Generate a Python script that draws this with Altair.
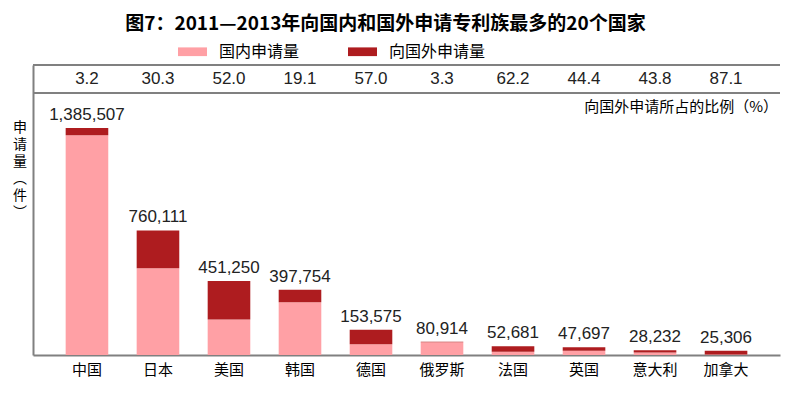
import altair as alt
import pandas as pd

CJK = "Noto Sans CJK SC"
NUM = "Liberation Sans"

title_text = "图7：2011—2013年向国内和国外申请专利族最多的20个国家"
countries = ["中国", "日本", "美国", "韩国", "德国", "俄罗斯", "法国", "英国", "意大利", "加拿大"]
totals = [1385507, 760111, 451250, 397754, 153575, 80914, 52681, 47697, 28232, 25306]
domestic = [1341171, 529797, 216600, 321783, 66037, 78244, 19913, 26520, 15866, 3264]
foreign = [44336, 230314, 234650, 75971, 87538, 2670, 32768, 21177, 12366, 22042]
foreign_pct = [3.2, 30.3, 52.0, 19.1, 57.0, 3.3, 62.2, 44.4, 43.8, 87.1]
series_names = ["国内申请量", "向国外申请量"]
colors = ["#FFA0A5", "#AE1C1F"]
ratio_label = "向国外申请所占的比例（%）"
y_title_lines = ["申", "请", "量", "︵", "件", "︶"]

rows = []
for i, c in enumerate(countries):
    rows.append({"country": c, "series": series_names[0], "value": domestic[i], "ord": 0})
    rows.append({"country": c, "series": series_names[1], "value": foreign[i], "ord": 1})
df_bars = pd.DataFrame(rows)
df_tot = pd.DataFrame({"country": countries, "total": totals, "pct": foreign_pct})

W, H = 747, 290
xscale = alt.Scale(domain=countries, paddingInner=0.4, paddingOuter=0.46)
yscale = alt.Scale(domain=[0, 1770000])
GRAY = "#808080"

bars = alt.Chart(df_bars).mark_bar().encode(
    x=alt.X("country:N", sort=countries, scale=xscale,
            axis=alt.Axis(title=None, labelAngle=0, labelFontSize=15, labelFont=CJK,
                          labelColor="#000", ticks=False, domainColor=GRAY,
                          domainWidth=2, labelPadding=7)),
    y=alt.Y("value:Q", stack="zero", scale=yscale,
            axis=alt.Axis(title=None, labels=False, ticks=False, grid=False,
                          domainColor=GRAY, domainWidth=2)),
    color=alt.Color("series:N", scale=alt.Scale(domain=series_names, range=colors),
                    legend=alt.Legend(title=None, orient="none", legendX=145, legendY=-28,
                                      direction="horizontal",
                                      symbolType="M-1,-0.3H1V0.3H-1Z", symbolSize=841,
                                      symbolStrokeWidth=0, labelFont=CJK, labelFontSize=16,
                                      labelColor="#000", labelOffset=12, columnPadding=48,
                                      padding=0)),
    order=alt.Order("ord:Q"),
)

totals_text = alt.Chart(df_tot).mark_text(
    baseline="bottom", dy=-4, font=NUM, fontSize=17, color="#222"
).encode(
    x=alt.X("country:N", sort=countries, scale=xscale),
    y=alt.Y("total:Q", scale=yscale),
    text=alt.Text("total:Q", format=","),
)

pct_text = alt.Chart(df_tot).mark_text(
    baseline="middle", font=NUM, fontSize=17, color="#222"
).encode(
    x=alt.X("country:N", sort=countries, scale=xscale),
    y=alt.value(14),
    text=alt.Text("pct:Q", format=".1f"),
)

top_rule = alt.Chart(df_tot).mark_rule(color=GRAY, strokeWidth=2).encode(
    x=alt.value(0), x2=alt.value(W), y=alt.value(0))
mid_rule = alt.Chart(df_tot).mark_rule(color=GRAY, strokeWidth=2).encode(
    x=alt.value(0), x2=alt.value(W), y=alt.value(28))

ratio_text = alt.Chart(pd.DataFrame({"t": [ratio_label]})).mark_text(
    align="right", baseline="middle", font=CJK, fontSize=15, color="#000"
).encode(x=alt.value(745), y=alt.value(42), text="t:N")

ytitle = alt.Chart(pd.DataFrame({"t": [0]})).mark_text(
    text=y_title_lines, align="center", baseline="top", font=CJK, fontSize=14,
    lineHeight=17, color="#000"
).encode(x=alt.value(-13), y=alt.value(56))

chart = alt.layer(bars, totals_text, pct_text, top_rule, mid_rule, ratio_text, ytitle).properties(
    width=W, height=H,
    title=alt.TitleParams(title_text, font=CJK, fontSize=19, fontWeight="bold",
                          color="#000", anchor="middle", dx=-21, offset=3),
    autosize="none",
    padding={"left": 25, "top": 57, "right": 12, "bottom": 36},
).configure_view(stroke=None)

chart.save("out.html", embed_options={"renderer": "svg", "actions": False})
